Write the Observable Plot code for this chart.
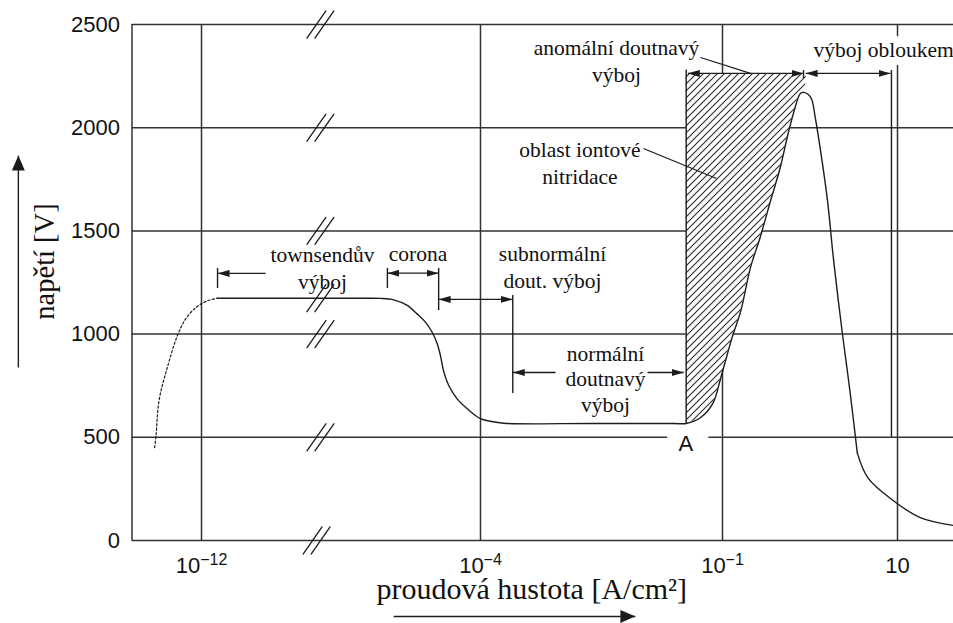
<!DOCTYPE html>
<html>
<head>
<meta charset="utf-8">
<script src="https://cdn.jsdelivr.net/npm/d3@7"></script>
<script src="https://cdn.jsdelivr.net/npm/@observablehq/plot@0.6"></script>
<style>
  html, body { margin: 0; padding: 0; background: #fff; overflow: hidden; }
  #chart svg { display: block; }
</style>
</head>
<body>
<div id="chart"></div>
<script>
// ---------- DATA (x = log10 of current density [A/cm²], y = voltage [V]) ----------
const xTickValues = [-12, -4, -1, 1];
const xTickLabels = ["10^−12", "10^−4", "10^−1", "10"];
const yTickValues = [0, 500, 1000, 1500, 2000, 2500];

const yTitle = "napětí [V]";
const xTitle = "proudová hustota [A/cm²]";

// dotted onset of the Townsend discharge
const townsendRise = [
  {u: -13.35, V: 450}, {u: -13.31, V: 505}, {u: -13.22, V: 680}, {u: -12.98, V: 840},
  {u: -12.7, V: 990}, {u: -12.45, V: 1075}, {u: -12.15, V: 1130}, {u: -11.85, V: 1160},
  {u: -11.54, V: 1174}
];

// main characteristic: plateau, corona drop, normal glow, abnormal glow, peak, drop to arc
const dischargeCurve = [
  {u: -11.54, V: 1174}, {u: -9, V: 1174}, {u: -7.3, V: 1174}, {u: -6.87, V: 1173},
  {u: -6.49, V: 1166}, {u: -6.1, V: 1139}, {u: -5.82, V: 1098}, {u: -5.58, V: 1058},
  {u: -5.39, V: 1010}, {u: -5.24, V: 953}, {u: -5.15, V: 897}, {u: -5.05, V: 816},
  {u: -4.91, V: 751}, {u: -4.67, V: 686}, {u: -4.38, V: 638}, {u: -4.0, V: 590},
  {u: -3.88, V: 578}, {u: -3.71, V: 568},
  {u: -2.6, V: 567}, {u: -1.6, V: 567},
  {u: -1.45, V: 567}, {u: -1.27, V: 596}, {u: -1.12, V: 664}, {u: -1.02, V: 790},
  {u: -0.89, V: 984}, {u: -0.79, V: 1114}, {u: -0.68, V: 1323}, {u: -0.57, V: 1468},
  {u: -0.45, V: 1647}, {u: -0.34, V: 1807}, {u: -0.25, V: 1972}, {u: -0.17, V: 2098},
  {u: -0.11, V: 2166}, {u: -0.07, V: 2171}, {u: 0.01, V: 2146}, {u: 0.06, V: 2049},
  {u: 0.12, V: 1890}, {u: 0.2, V: 1647}, {u: 0.27, V: 1357}, {u: 0.37, V: 1003},
  {u: 0.46, V: 712}, {u: 0.54, V: 426}
];
const arcTail = [
  {u: 0.54, V: 426}, {u: 0.66, V: 305}, {u: 0.95, V: 194}, {u: 1.26, V: 111}, {u: 1.64, V: 73}
];

// ion nitriding region (hatched): between the abnormal-glow rise and the top bracket
const nitridingTopV = 2263;
const nitridingEdge = [
  {u: -1.45, V: 567}, {u: -1.27, V: 596}, {u: -1.12, V: 664}, {u: -1.02, V: 790},
  {u: -0.89, V: 984}, {u: -0.79, V: 1114}, {u: -0.68, V: 1323}, {u: -0.57, V: 1468},
  {u: -0.45, V: 1647}, {u: -0.34, V: 1807}, {u: -0.25, V: 1972}, {u: -0.17, V: 2098},
  {u: -0.11, V: 2166}, {u: -0.07, V: 2171}, {u: -0.04, V: 2263}
];

// grid
const hGrid = [
  {V: 0, u1: -14, u2: 1.64}, {V: 500, u1: -14, u2: -1.68}, {V: 500, u1: -1.17, u2: 1.64},
  {V: 1000, u1: -14, u2: 1.64}, {V: 1500, u1: -14, u2: 1.64},
  {V: 2000, u1: -14, u2: 1.64}, {V: 2500, u1: -14, u2: 1.64}
];
const vGrid = [-14, -12, -4, -1, 1];
const breakMarks = [
  {u: -8.59, V: 2500}, {u: -8.59, V: 2000}, {u: -8.59, V: 1500}, {u: -8.59, V: 1174},
  {u: -8.59, V: 1000}, {u: -8.59, V: 500}, {u: -8.7, V: 0}
];

// annotations
const regionLabels = [
  {u: -8.53, V: 1325, text: "townsendův\nvýboj"},
  {u: -5.79, V: 1395, text: "corona"},
  {u: -3.107, V: 1330, text: "subnormální\ndout. výboj"},
  {u: -2.314, V: 2328, text: "anomální doutnavý\nvýboj"},
  {u: -2.767, V: 1834, text: "oblast iontové\nnitridace"}
];
const normalLabel = [{u: -2.45, V: 787, text: "normální\ndoutnavý\nvýboj"}];
const arcLabel = [{u: 0.04, V: 2374, text: "výboj obloukem"}];
const pointA = [{u: -1.455, V: 470, text: "A"}];

const leaders = [
  {u1: -1.273, V1: 2340, u2: -0.68, V2: 2263},
  {u1: -1.98, V1: 1899, u2: -1.074, V2: 1754}
];
const singleArrows = [
  {u1: -10.16, V1: 1294, u2: -11.54, V2: 1294},
  {u1: -3.07, V1: 814, u2: -3.6, V2: 814},
  {u1: -1.93, V1: 814, u2: -1.48, V2: 814}
];
const doubleArrows = [
  {u1: -6.67, V1: 1295, u2: -5.2, V2: 1295},
  {u1: -5.2, V1: 1168, u2: -3.6, V2: 1168},
  {u1: -1.43, V1: 2263, u2: -0.074, V2: 2263},
  {u1: -0.05, V1: 2263, u2: 0.92, V2: 2263}
];
const bracketTicks = [
  {u: -11.54, V1: 1221, V2: 1318},
  {u: -6.67, V1: 1221, V2: 1318},
  {u: -5.2, V1: 1114, V2: 1318},
  {u: -3.6, V1: 712, V2: 1187},
  {u: -0.074, V1: 2238, V2: 2277},
  {u: -1.45, V1: 567, V2: 2280},
  {u: 0.931, V1: 500, V2: 2277}
];
const axisArrows = [
  {u1: -6.49, V1: -368, u2: -2.08, V2: -368},
  {u1: -17.27, V1: 838, u2: -17.27, V2: 1865}
];

// ---------- helpers ----------
const SVGNS = "http://www.w3.org/2000/svg";
function arrowHead(len, half) {
  return (color) => {
    const m = document.createElementNS(SVGNS, "marker");
    m.setAttribute("viewBox", `${-len} ${-half} ${len} ${2 * half}`);
    m.setAttribute("markerWidth", len);
    m.setAttribute("markerHeight", 2 * half);
    m.setAttribute("markerUnits", "userSpaceOnUse");
    m.setAttribute("refX", 0);
    m.setAttribute("refY", 0);
    m.setAttribute("orient", "auto-start-reverse");
    const p = document.createElementNS(SVGNS, "path");
    p.setAttribute("d", `M${-len},${-half}L0,0L${-len},${half}Z`);
    p.setAttribute("fill", color);
    p.setAttribute("stroke", "none");
    m.appendChild(p);
    return m;
  };
}
const smallHead = arrowHead(12, 3.5);
const bigHead = arrowHead(15, 6.5);
const slash = {draw(context, l) { context.moveTo(0, 0); context.lineTo(0, -l); }};

const INK = "#1c1c1c";
const GRID = "#333";
const SERIF = "Liberation Serif, Times New Roman, serif";
const SANS = "Liberation Sans, Arial, sans-serif";

const chart = Plot.plot({
  width: 953,
  height: 623,
  marginLeft: 131.5,
  marginRight: 0,
  marginTop: 24,
  marginBottom: 83,
  style: {fontFamily: SANS, fontSize: "22px", color: "#111", background: "white", overflow: "hidden"},
  x: {type: "linear", domain: [-14, -12, -4, -1, 1, 1.64], range: [131.5, 201, 480, 722, 897, 953]},
  y: {domain: [0, 2500], range: [540, 24]},
  marks: [
    Plot.ruleY(hGrid, {y: "V", x1: "u1", x2: "u2", stroke: GRID, strokeWidth: 1.5}),
    Plot.ruleX(vGrid, {x: d => d, y1: 0, y2: 2500, stroke: GRID, strokeWidth: 1.5}),
    Plot.vector(breakMarks, {x: "u", y: "V", length: 33, rotate: 35, anchor: "middle", shape: slash, dx: -4, stroke: INK, strokeWidth: 1.3}),
    Plot.vector(breakMarks, {x: "u", y: "V", length: 33, rotate: 35, anchor: "middle", shape: slash, dx: 4, stroke: INK, strokeWidth: 1.3}),
    Plot.area(nitridingEdge, {x1: "u", y1: "V", y2: nitridingTopV, fill: "url(#hatch)", curve: "catmull-rom"}),
    Plot.line(townsendRise, {x: "u", y: "V", stroke: INK, strokeWidth: 1.2, strokeDasharray: "2.2,2.2", curve: "catmull-rom"}),
    Plot.line(dischargeCurve, {x: "u", y: "V", stroke: INK, strokeWidth: 1.4, curve: "catmull-rom"}),
    Plot.line(arcTail, {x: "u", y: "V", stroke: INK, strokeWidth: 1.4, curve: "catmull-rom"}),
    Plot.ruleX(bracketTicks, {x: "u", y1: "V1", y2: "V2", stroke: INK, strokeWidth: 1.4}),
    Plot.link(leaders, {x1: "u1", y1: "V1", x2: "u2", y2: "V2", stroke: INK, strokeWidth: 1.2}),
    Plot.link(singleArrows, {x1: "u1", y1: "V1", x2: "u2", y2: "V2", stroke: INK, strokeWidth: 1.3, markerEnd: smallHead}),
    Plot.link(doubleArrows, {x1: "u1", y1: "V1", x2: "u2", y2: "V2", stroke: INK, strokeWidth: 1.3, markerStart: smallHead, markerEnd: smallHead}),
    Plot.link(axisArrows, {x1: "u1", y1: "V1", x2: "u2", y2: "V2", stroke: INK, strokeWidth: 1.4, markerEnd: bigHead}),
    Plot.text(regionLabels, {x: "u", y: "V", text: "text", fontFamily: SERIF, fontSize: 21.5, lineHeight: 1.25, fill: "#111"}),
    Plot.text(normalLabel, {x: "u", y: "V", text: "text", fontFamily: SERIF, fontSize: 21.5, lineHeight: 1.19, fill: "#111"}),
    Plot.text(arcLabel, {x: "u", y: "V", text: "text", textAnchor: "start", fontFamily: SERIF, fontSize: 21.5, fill: "#111", stroke: "white", strokeWidth: 16}),
    Plot.text(pointA, {x: "u", y: "V", text: "text", fontFamily: SANS, fontSize: 22, fill: "#111"}),
    Plot.text([yTitle], {text: d => d, frameAnchor: "left", textAnchor: "middle", lineAnchor: "middle", rotate: -90, dx: -87, dy: -21, fontFamily: SERIF, fontSize: 28.5, fill: "#111"}),
    Plot.text([xTitle], {text: d => d, frameAnchor: "bottom", textAnchor: "middle", lineAnchor: "middle", dx: -11, dy: 49, fontFamily: SERIF, fontSize: 30, fill: "#111"}),
    Plot.axisY({ticks: yTickValues, tickSize: 0, tickPadding: 12, fontSize: 22, label: null, tickFormat: d => String(d)}),
    Plot.axisX({ticks: xTickValues, tickSize: 0, tickPadding: 17, fontSize: 22, label: null,
      tickFormat: d => xTickLabels[xTickValues.indexOf(d)]})
  ]
});

// hatch pattern for the ion nitriding region
const svg = d3.select(chart);
const pat = svg.insert("defs", ":first-child").append("pattern")
  .attr("id", "hatch").attr("patternUnits", "userSpaceOnUse")
  .attr("width", 7).attr("height", 7);
pat.append("rect").attr("width", 7).attr("height", 7).attr("fill", "white");
pat.append("path").attr("d", "M-1,1 l2,-2 M0,7 l7,-7 M6,8 l2,-2")
  .attr("stroke", "#2a2a2a").attr("stroke-width", 1.1);

// superscript exponents on the x tick labels
svg.selectAll('g[aria-label="x-axis tick label"] text').each(function () {
  const t = this.textContent;
  const i = t.indexOf("^");
  if (i < 0) return;
  this.textContent = t.slice(0, i);
  const sup = document.createElementNS(SVGNS, "tspan");
  sup.setAttribute("dy", "-8");
  sup.setAttribute("font-size", "16");
  sup.textContent = t.slice(i + 1);
  this.appendChild(sup);
});

document.getElementById("chart").appendChild(chart);
</script>
</body>
</html>
